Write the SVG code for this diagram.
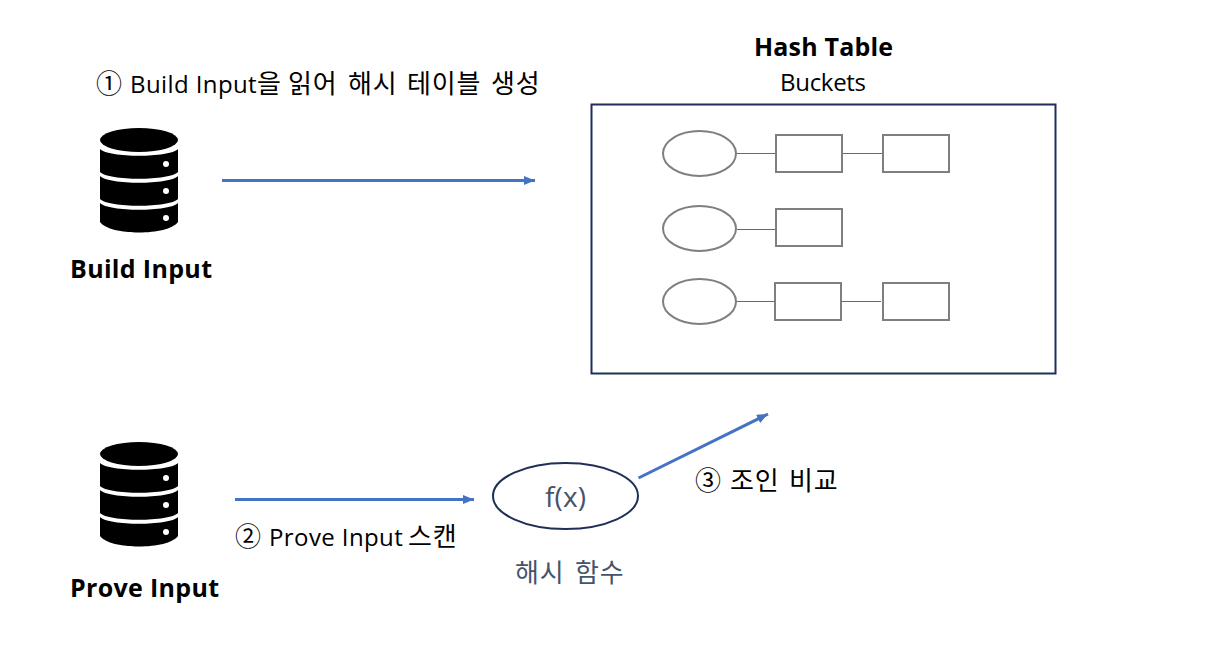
<svg xmlns="http://www.w3.org/2000/svg" width="1221" height="656" viewBox="0 0 1221 656">
<style>
text{font-family:"Open Sans","Noto Sans CJK KR",sans-serif;fill:#000;white-space:pre}
.lbl{font-size:24px}
.lat{letter-spacing:.4px}
.k{font-family:"Noto Sans CJK KR","Open Sans",sans-serif;font-size:26px;letter-spacing:.8px;font-weight:400}
.b{font-size:25px;font-weight:700;}
.dk{fill:#44546a}
.bucket{fill:#fff;stroke:#7f7f7f;stroke-width:2}
.entry{fill:#fff;stroke:#7f7f7f;stroke-width:2}
.thin{stroke:#4472a8;stroke-width:1;fill:none}
.arrow{stroke:#4472c4;stroke-width:3;fill:none}
.navy{fill:#fff;stroke:#1f2f57;stroke-width:2}
</style>
<defs>
<marker id="ah" markerUnits="userSpaceOnUse" markerWidth="12" markerHeight="10" refX="11" refY="4.500" orient="auto"><path d="M0 0L11 4.500L0 9Z" fill="#4472c4"/></marker>
<g id="db">
<ellipse cx="39" cy="12" rx="39" ry="12"/>
<path d="M0 21C8 30 70 30 78 21V44C70 53 8 53 0 44Z"/>
<path d="M0 48C8 57 70 57 78 48V71C70 80 8 80 0 71Z"/>
<path d="M0 75C8 84 70 84 78 75V94C68 108 10 108 0 94Z"/>
<circle cx="66" cy="36" r="3" fill="#fff"/>
<circle cx="66" cy="63" r="3" fill="#fff"/>
<circle cx="66" cy="90" r="3" fill="#fff"/>
</g>
</defs>
<rect width="1221" height="656" fill="#fff"/>
<g id="build-input"><use href="#db" x="100" y="128"/><text class="b" x="70" y="278" textLength="142">Build Input</text></g>
<g id="prove-input"><use href="#db" x="100" y="442"/><text class="b" x="70" y="597" textLength="149">Prove Input</text></g>
<g id="step1"><text class="lbl" y="93"><tspan class="k" x="96">① </tspan><tspan class="lat" x="130">Build Input</tspan><tspan class="k">을 </tspan><tspan class="k" x="288">읽어 </tspan><tspan class="k" x="348">해시 </tspan><tspan class="k" x="407">테이블 </tspan><tspan class="k" x="491">생성</tspan></text></g>
<g id="step2"><text class="lbl" y="546"><tspan class="k" x="235">② </tspan><tspan class="lat" x="269">Prove Input </tspan><tspan class="k" x="408">스캔</tspan></text></g>
<g id="step3"><text class="lbl" y="490"><tspan class="k" x="695">③ </tspan><tspan class="k" x="730">조인 </tspan><tspan class="k" x="789">비교</tspan></text></g>
<g id="hash-table">
<text class="b" x="754" y="56" textLength="139">Hash Table</text>
<text class="lbl" x="780" y="91" textLength="86">Buckets</text>
<rect x="591.500" y="104.500" width="464" height="269" fill="#fff" stroke="#1f2f57" stroke-width="2"/>
</g>
<g id="bucket-row-1">
<ellipse class="bucket" cx="699.500" cy="153.500" rx="36.500" ry="22.500"/>
<rect class="entry" x="776" y="135" width="66" height="37"/>
<rect class="entry" x="883" y="135" width="66" height="37"/>
</g>
<g id="bucket-row-2">
<ellipse class="bucket" cx="699.500" cy="228.500" rx="36.500" ry="22.500"/>
<rect class="entry" x="776" y="209" width="66" height="37"/>
</g>
<g id="bucket-row-3">
<ellipse class="bucket" cx="699.500" cy="301.500" rx="36.500" ry="22.500"/>
<rect class="entry" x="775" y="283" width="66" height="37"/>
<rect class="entry" x="883" y="283" width="66" height="37"/>
</g>
<g id="hash-function">
<ellipse class="navy" cx="565.500" cy="496" rx="72.500" ry="33"/>
<text class="lbl dk" x="545" y="507" textLength="41" style="font-size:28px">f(x)</text>
<text class="lbl dk" y="582"><tspan class="k" x="515">해시 </tspan><tspan class="k" x="575">함수</tspan></text>
</g>
<g id="connectors">
<path class="arrow" d="M222 180.500H535" marker-end="url(#ah)"/>
<path class="arrow" d="M235 499.500H474" marker-end="url(#ah)"/>
<path class="arrow" d="M638.500 478L768 414" marker-end="url(#ah)"/>
<path class="thin" d="M737 153.500H775M843 153.500H882M737 229.500H775M737 301.500H774M842 301.500H881"/>
</g>
</svg>
